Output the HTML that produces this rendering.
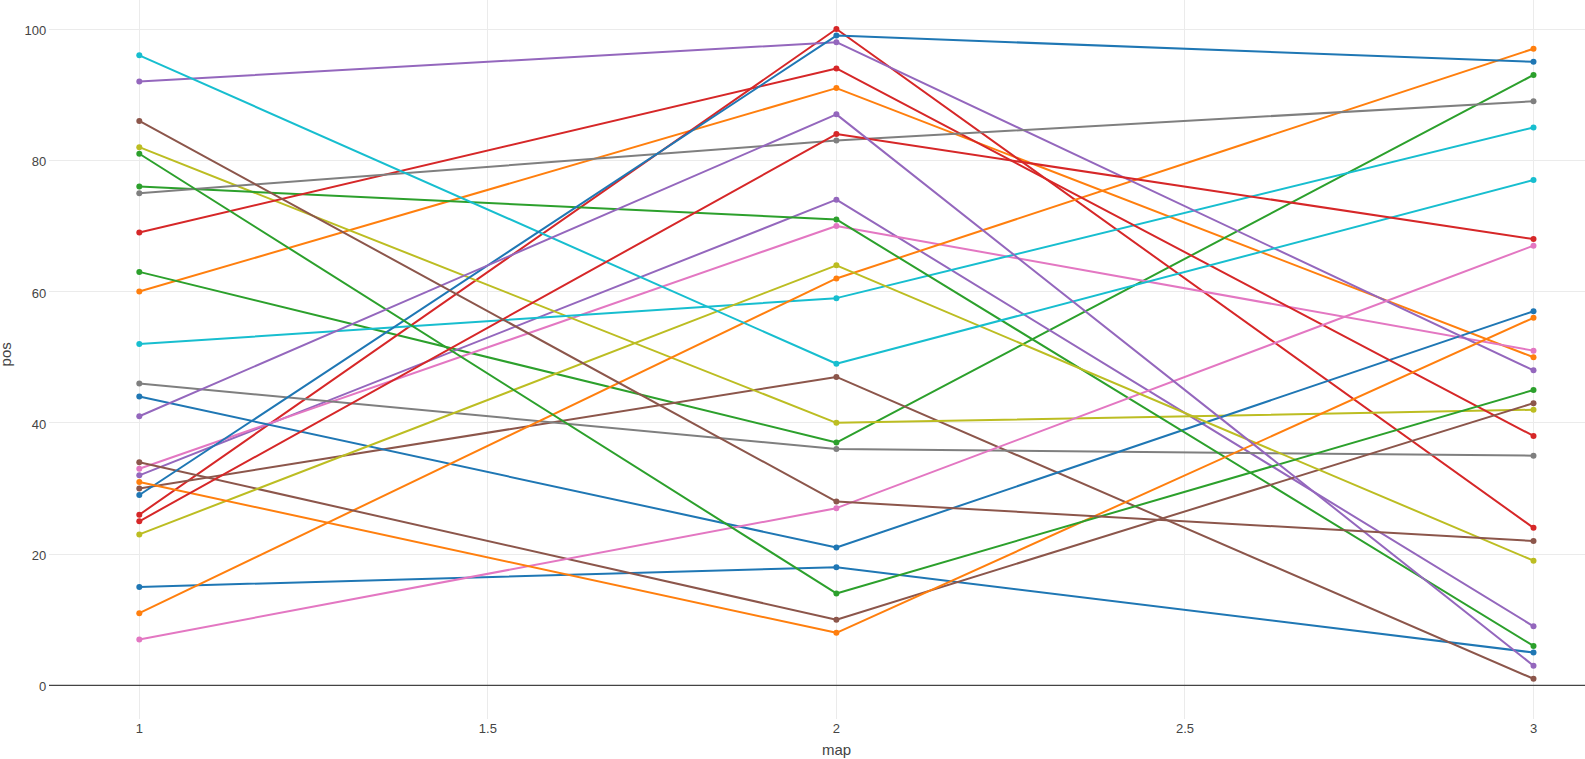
<!DOCTYPE html><html><head><meta charset="utf-8"><style>html,body{margin:0;padding:0;background:#fff;width:1585px;height:759px;overflow:hidden}svg{display:block}text{font-family:"Liberation Sans",sans-serif;fill:#444}</style></head><body>
<svg width="1585" height="759" viewBox="0 0 1585 759">
<rect width="1585" height="759" fill="#fff"/>
<path d="M49,554.5H1585M49,422.5H1585M49,291.5H1585M49,160.5H1585M49,29.5H1585M139.5,0V719M487.5,0V719M836.5,0V719M1184.5,0V719M1533.5,0V719" stroke="#ebebeb" stroke-width="1" fill="none"/>
<path d="M49,685.45H1585" stroke="#444" stroke-width="1.2" fill="none"/>
<g><polyline points="139.30,586.90 836.40,567.22 1533.50,652.54" stroke="#1f77b4" stroke-width="2" fill="none" stroke-linejoin="round"/><circle cx="139.30" cy="586.90" r="3" fill="#1f77b4"/><circle cx="836.40" cy="567.22" r="3" fill="#1f77b4"/><circle cx="1533.50" cy="652.54" r="3" fill="#1f77b4"/></g>
<g><polyline points="139.30,291.57 836.40,88.12 1533.50,357.20" stroke="#ff7f0e" stroke-width="2" fill="none" stroke-linejoin="round"/><circle cx="139.30" cy="291.57" r="3" fill="#ff7f0e"/><circle cx="836.40" cy="88.12" r="3" fill="#ff7f0e"/><circle cx="1533.50" cy="357.20" r="3" fill="#ff7f0e"/></g>
<g><polyline points="139.30,271.88 836.40,442.52 1533.50,74.99" stroke="#2ca02c" stroke-width="2" fill="none" stroke-linejoin="round"/><circle cx="139.30" cy="271.88" r="3" fill="#2ca02c"/><circle cx="836.40" cy="442.52" r="3" fill="#2ca02c"/><circle cx="1533.50" cy="74.99" r="3" fill="#2ca02c"/></g>
<g><polyline points="139.30,514.71 836.40,29.05 1533.50,527.84" stroke="#d62728" stroke-width="2" fill="none" stroke-linejoin="round"/><circle cx="139.30" cy="514.71" r="3" fill="#d62728"/><circle cx="836.40" cy="29.05" r="3" fill="#d62728"/><circle cx="1533.50" cy="527.84" r="3" fill="#d62728"/></g>
<g><polyline points="139.30,475.33 836.40,199.69 1533.50,626.28" stroke="#9467bd" stroke-width="2" fill="none" stroke-linejoin="round"/><circle cx="139.30" cy="475.33" r="3" fill="#9467bd"/><circle cx="836.40" cy="199.69" r="3" fill="#9467bd"/><circle cx="1533.50" cy="626.28" r="3" fill="#9467bd"/></g>
<g><polyline points="139.30,488.46 836.40,376.89 1533.50,678.79" stroke="#8c564b" stroke-width="2" fill="none" stroke-linejoin="round"/><circle cx="139.30" cy="488.46" r="3" fill="#8c564b"/><circle cx="836.40" cy="376.89" r="3" fill="#8c564b"/><circle cx="1533.50" cy="678.79" r="3" fill="#8c564b"/></g>
<g><polyline points="139.30,468.77 836.40,225.94 1533.50,350.64" stroke="#e377c2" stroke-width="2" fill="none" stroke-linejoin="round"/><circle cx="139.30" cy="468.77" r="3" fill="#e377c2"/><circle cx="836.40" cy="225.94" r="3" fill="#e377c2"/><circle cx="1533.50" cy="350.64" r="3" fill="#e377c2"/></g>
<g><polyline points="139.30,383.45 836.40,449.08 1533.50,455.65" stroke="#7f7f7f" stroke-width="2" fill="none" stroke-linejoin="round"/><circle cx="139.30" cy="383.45" r="3" fill="#7f7f7f"/><circle cx="836.40" cy="449.08" r="3" fill="#7f7f7f"/><circle cx="1533.50" cy="455.65" r="3" fill="#7f7f7f"/></g>
<g><polyline points="139.30,147.18 836.40,422.83 1533.50,409.70" stroke="#bcbd22" stroke-width="2" fill="none" stroke-linejoin="round"/><circle cx="139.30" cy="147.18" r="3" fill="#bcbd22"/><circle cx="836.40" cy="422.83" r="3" fill="#bcbd22"/><circle cx="1533.50" cy="409.70" r="3" fill="#bcbd22"/></g>
<g><polyline points="139.30,344.07 836.40,298.13 1533.50,127.50" stroke="#17becf" stroke-width="2" fill="none" stroke-linejoin="round"/><circle cx="139.30" cy="344.07" r="3" fill="#17becf"/><circle cx="836.40" cy="298.13" r="3" fill="#17becf"/><circle cx="1533.50" cy="127.50" r="3" fill="#17becf"/></g>
<g><polyline points="139.30,396.58 836.40,547.53 1533.50,311.26" stroke="#1f77b4" stroke-width="2" fill="none" stroke-linejoin="round"/><circle cx="139.30" cy="396.58" r="3" fill="#1f77b4"/><circle cx="836.40" cy="547.53" r="3" fill="#1f77b4"/><circle cx="1533.50" cy="311.26" r="3" fill="#1f77b4"/></g>
<g><polyline points="139.30,613.16 836.40,278.44 1533.50,48.74" stroke="#ff7f0e" stroke-width="2" fill="none" stroke-linejoin="round"/><circle cx="139.30" cy="613.16" r="3" fill="#ff7f0e"/><circle cx="836.40" cy="278.44" r="3" fill="#ff7f0e"/><circle cx="1533.50" cy="48.74" r="3" fill="#ff7f0e"/></g>
<g><polyline points="139.30,186.56 836.40,219.38 1533.50,645.97" stroke="#2ca02c" stroke-width="2" fill="none" stroke-linejoin="round"/><circle cx="139.30" cy="186.56" r="3" fill="#2ca02c"/><circle cx="836.40" cy="219.38" r="3" fill="#2ca02c"/><circle cx="1533.50" cy="645.97" r="3" fill="#2ca02c"/></g>
<g><polyline points="139.30,232.50 836.40,68.43 1533.50,435.96" stroke="#d62728" stroke-width="2" fill="none" stroke-linejoin="round"/><circle cx="139.30" cy="232.50" r="3" fill="#d62728"/><circle cx="836.40" cy="68.43" r="3" fill="#d62728"/><circle cx="1533.50" cy="435.96" r="3" fill="#d62728"/></g>
<g><polyline points="139.30,81.55 836.40,42.18 1533.50,370.33" stroke="#9467bd" stroke-width="2" fill="none" stroke-linejoin="round"/><circle cx="139.30" cy="81.55" r="3" fill="#9467bd"/><circle cx="836.40" cy="42.18" r="3" fill="#9467bd"/><circle cx="1533.50" cy="370.33" r="3" fill="#9467bd"/></g>
<g><polyline points="139.30,462.21 836.40,619.72 1533.50,403.14" stroke="#8c564b" stroke-width="2" fill="none" stroke-linejoin="round"/><circle cx="139.30" cy="462.21" r="3" fill="#8c564b"/><circle cx="836.40" cy="619.72" r="3" fill="#8c564b"/><circle cx="1533.50" cy="403.14" r="3" fill="#8c564b"/></g>
<g><polyline points="139.30,639.41 836.40,508.15 1533.50,245.63" stroke="#e377c2" stroke-width="2" fill="none" stroke-linejoin="round"/><circle cx="139.30" cy="639.41" r="3" fill="#e377c2"/><circle cx="836.40" cy="508.15" r="3" fill="#e377c2"/><circle cx="1533.50" cy="245.63" r="3" fill="#e377c2"/></g>
<g><polyline points="139.30,193.13 836.40,140.62 1533.50,101.24" stroke="#7f7f7f" stroke-width="2" fill="none" stroke-linejoin="round"/><circle cx="139.30" cy="193.13" r="3" fill="#7f7f7f"/><circle cx="836.40" cy="140.62" r="3" fill="#7f7f7f"/><circle cx="1533.50" cy="101.24" r="3" fill="#7f7f7f"/></g>
<g><polyline points="139.30,534.40 836.40,265.32 1533.50,560.65" stroke="#bcbd22" stroke-width="2" fill="none" stroke-linejoin="round"/><circle cx="139.30" cy="534.40" r="3" fill="#bcbd22"/><circle cx="836.40" cy="265.32" r="3" fill="#bcbd22"/><circle cx="1533.50" cy="560.65" r="3" fill="#bcbd22"/></g>
<g><polyline points="139.30,55.30 836.40,363.76 1533.50,180.00" stroke="#17becf" stroke-width="2" fill="none" stroke-linejoin="round"/><circle cx="139.30" cy="55.30" r="3" fill="#17becf"/><circle cx="836.40" cy="363.76" r="3" fill="#17becf"/><circle cx="1533.50" cy="180.00" r="3" fill="#17becf"/></g>
<g><polyline points="139.30,495.02 836.40,35.61 1533.50,61.87" stroke="#1f77b4" stroke-width="2" fill="none" stroke-linejoin="round"/><circle cx="139.30" cy="495.02" r="3" fill="#1f77b4"/><circle cx="836.40" cy="35.61" r="3" fill="#1f77b4"/><circle cx="1533.50" cy="61.87" r="3" fill="#1f77b4"/></g>
<g><polyline points="139.30,481.90 836.40,632.85 1533.50,317.82" stroke="#ff7f0e" stroke-width="2" fill="none" stroke-linejoin="round"/><circle cx="139.30" cy="481.90" r="3" fill="#ff7f0e"/><circle cx="836.40" cy="632.85" r="3" fill="#ff7f0e"/><circle cx="1533.50" cy="317.82" r="3" fill="#ff7f0e"/></g>
<g><polyline points="139.30,153.75 836.40,593.47 1533.50,390.02" stroke="#2ca02c" stroke-width="2" fill="none" stroke-linejoin="round"/><circle cx="139.30" cy="153.75" r="3" fill="#2ca02c"/><circle cx="836.40" cy="593.47" r="3" fill="#2ca02c"/><circle cx="1533.50" cy="390.02" r="3" fill="#2ca02c"/></g>
<g><polyline points="139.30,521.28 836.40,134.06 1533.50,239.07" stroke="#d62728" stroke-width="2" fill="none" stroke-linejoin="round"/><circle cx="139.30" cy="521.28" r="3" fill="#d62728"/><circle cx="836.40" cy="134.06" r="3" fill="#d62728"/><circle cx="1533.50" cy="239.07" r="3" fill="#d62728"/></g>
<g><polyline points="139.30,416.27 836.40,114.37 1533.50,665.66" stroke="#9467bd" stroke-width="2" fill="none" stroke-linejoin="round"/><circle cx="139.30" cy="416.27" r="3" fill="#9467bd"/><circle cx="836.40" cy="114.37" r="3" fill="#9467bd"/><circle cx="1533.50" cy="665.66" r="3" fill="#9467bd"/></g>
<g><polyline points="139.30,120.93 836.40,501.59 1533.50,540.96" stroke="#8c564b" stroke-width="2" fill="none" stroke-linejoin="round"/><circle cx="139.30" cy="120.93" r="3" fill="#8c564b"/><circle cx="836.40" cy="501.59" r="3" fill="#8c564b"/><circle cx="1533.50" cy="540.96" r="3" fill="#8c564b"/></g>
<text x="46.3" y="686.50" font-size="13" text-anchor="end" dominant-baseline="central">0</text>
<text x="46.3" y="555.50" font-size="13" text-anchor="end" dominant-baseline="central">20</text>
<text x="46.3" y="424.50" font-size="13" text-anchor="end" dominant-baseline="central">40</text>
<text x="46.3" y="293.50" font-size="13" text-anchor="end" dominant-baseline="central">60</text>
<text x="46.3" y="161.50" font-size="13" text-anchor="end" dominant-baseline="central">80</text>
<text x="46.3" y="30.50" font-size="13" text-anchor="end" dominant-baseline="central">100</text>
<text x="139.30" y="733" font-size="13" text-anchor="middle">1</text>
<text x="487.85" y="733" font-size="13" text-anchor="middle">1.5</text>
<text x="836.40" y="733" font-size="13" text-anchor="middle">2</text>
<text x="1184.95" y="733" font-size="13" text-anchor="middle">2.5</text>
<text x="1533.50" y="733" font-size="13" text-anchor="middle">3</text>
<text x="836.5" y="755" font-size="15" text-anchor="middle">map</text>
<text transform="translate(11,354.3) rotate(-90)" x="0" y="0" font-size="15" text-anchor="middle">pos</text>
</svg></body></html>
